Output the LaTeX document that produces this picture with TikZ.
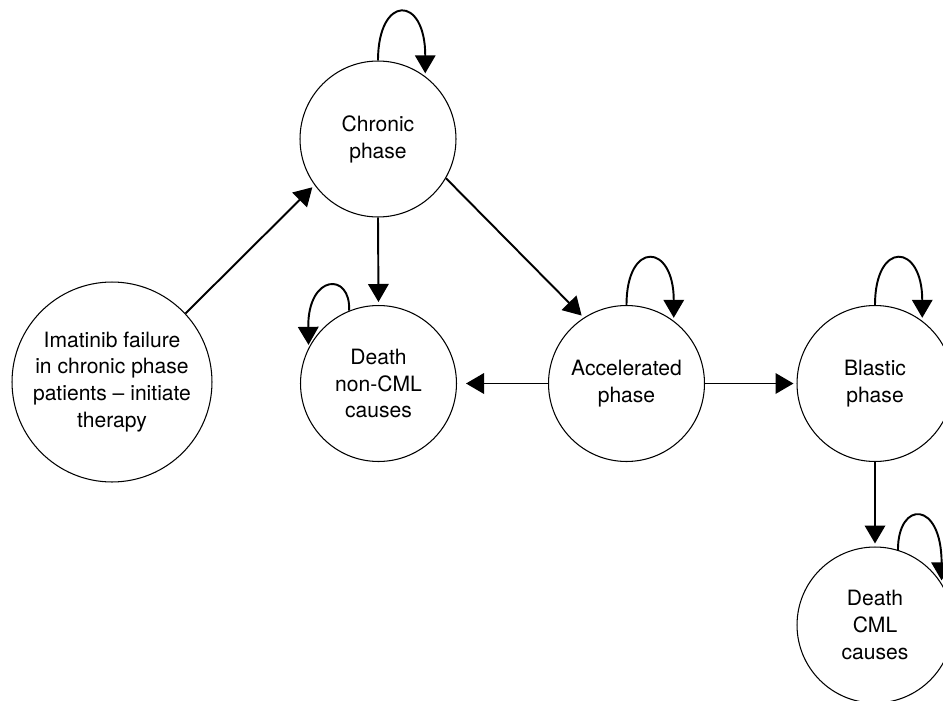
\documentclass[tikz,border=0pt]{standalone}
\usepackage{fontspec}
\setmainfont{TeX Gyre Heros}
\usetikzlibrary{arrows.meta}
\begin{document}
\begin{tikzpicture}[x=0.02cm,y=0.02cm,
  state/.style={circle,draw,line width=0.6pt,inner sep=0pt,align=center,
    font=\fontsize{12}{15.3}\selectfont,minimum size=3.12cm},
  bigstate/.style={state,minimum size=4.0cm},
  arr/.style={line width=1.1pt,-{Triangle[length=0.36cm,width=0.41cm]},shorten >=0.06cm}]
\useasboundingbox (0,0) rectangle (943,-700);
\clip (0,0) rectangle (943,-700);
\node[state] (chr) at (378,-139) {Chronic\\phase};
\node[bigstate] (ima) at (112,-382) {Imatinib failure\\in chronic phase\\patients -- initiate\\therapy};
\node[state] (dnc) at (378.5,-383.5) {Death\\non-CML\\causes};
\node[state] (acc) at (626.5,-383.5) {Accelerated\\phase};
\node[state] (bla) at (875,-383.5) {Blastic\\phase};
\node[state] (dcm) at (875,-625) {Death\\CML\\causes};
% transitions
\draw[arr] (ima.43) -- (chr.216);
\draw[arr] (chr.-30) -- (acc.123);
\draw[arr] (chr.south) -- (dnc.north);
\draw[arr,shorten >=0.18cm] (acc.west) -- (dnc.east);
\draw[arr] (acc.east) -- (bla.west);
\draw[arr] (bla.south) -- (dcm.north);
% self loops
\draw[arr] (chr.north) .. controls +(0,66) and +(0,82) .. (chr.53);
\draw[arr] (dnc.112) .. controls +(2,39) and +(-1,74) .. (dnc.153);
\draw[arr] (acc.north) .. controls +(0,65) and +(0,78) .. (acc.53);
\draw[arr] (bla.north) .. controls +(0,65) and +(0,78) .. (bla.53);
\draw[arr] (dcm.73) .. controls +(0,50) and +(0,83) .. (dcm.32);
\end{tikzpicture}
\end{document}
